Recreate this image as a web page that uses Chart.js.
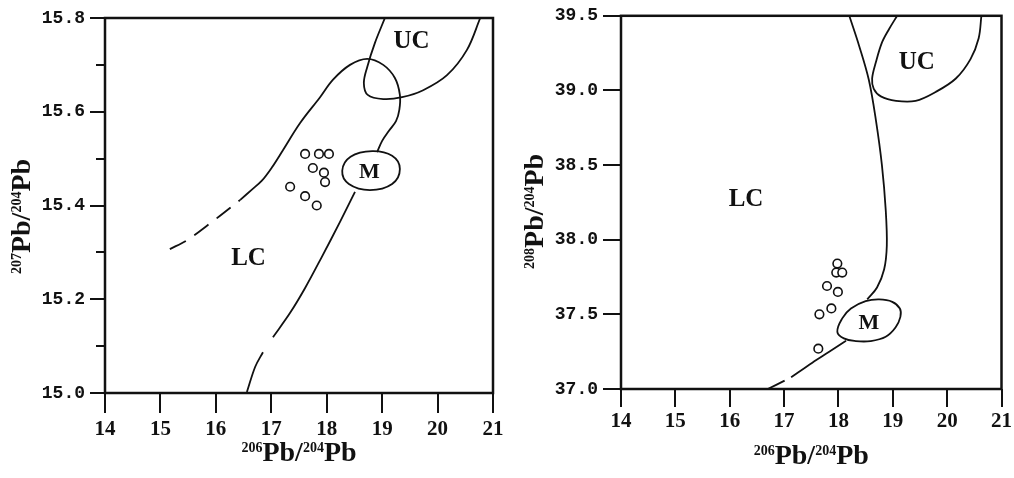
<!DOCTYPE html>
<html>
<head>
<meta charset="utf-8">
<script src="https://cdn.jsdelivr.net/npm/chart.js@4.4.1/dist/chart.umd.min.js"></script>
<style>
  html, body { margin: 0; padding: 0; background: #fff; }
  #wrap { position: relative; width: 1014px; height: 478px; }
  canvas { position: absolute; top: 0; }
  #chartA { left: 0; }
  #chartB { left: 510px; }
</style>
</head>
<body>
<div id="wrap">
  <canvas id="chartA" width="510" height="478"></canvas>
  <canvas id="chartB" width="504" height="478"></canvas>
</div>
<script>
// Muestras: 206Pb/204Pb, 207Pb/204Pb, 208Pb/204Pb
const x206a = [17.61, 17.86, 18.04, 17.75, 17.95, 17.97, 17.34, 17.61, 17.82];
const y207 = [15.51, 15.51, 15.51, 15.48, 15.47, 15.45, 15.44, 15.42, 15.40];
const x206b = [17.98, 17.96, 18.07, 17.79, 17.99, 17.87, 17.65, 17.63];
const y208 = [37.84, 37.78, 37.78, 37.69, 37.65, 37.54, 37.50, 37.27];

// Campos del diagrama 207/204 (izquierda)
const lcDashA = [[15.17, 15.307], [15.48, 15.326], [15.93, 15.365], [16.44, 15.412]];
const lcUpperA = [[16.44, 15.412], [16.65, 15.434], [16.83, 15.453], [17.01, 15.481], [17.21, 15.518],
  [17.52, 15.576], [17.88, 15.631], [18.11, 15.668], [18.42, 15.70], [18.73, 15.713], [19.02, 15.70],
  [19.23, 15.672], [19.32, 15.636], [19.31, 15.604], [19.25, 15.58], [19.12, 15.559], [19.00, 15.538],
  [18.91, 15.514]];
const lcLowerA = [[18.51, 15.429], [18.24, 15.365], [17.91, 15.29], [17.61, 15.224], [17.34, 15.171],
  [17.03, 15.119]];
const lcTailA = [[16.85, 15.087], [16.71, 15.056], [16.56, 15.002]];
const mFieldA = [[18.28, 15.474], [18.43, 15.504], [18.82, 15.516], [19.18, 15.506], [19.32, 15.478],
  [19.18, 15.446], [18.78, 15.433], [18.40, 15.446]];
const ucFieldA = [[19.05, 15.80], [18.87, 15.747], [18.73, 15.695], [18.67, 15.661], [18.74, 15.636],
  [19.02, 15.627], [19.36, 15.631], [19.74, 15.646], [20.17, 15.678], [20.53, 15.732], [20.77, 15.80]];

// Campos del diagrama 208/204 (derecha)
const lcBoundaryB = [[18.20, 39.50], [18.38, 39.30], [18.56, 39.07], [18.69, 38.80], [18.80, 38.50],
  [18.87, 38.20], [18.89, 37.96], [18.84, 37.80], [18.71, 37.68], [18.53, 37.60]];
const mFieldB = [[17.98, 37.383], [18.07, 37.473], [18.23, 37.539], [18.50, 37.588], [18.75, 37.60],
  [18.99, 37.584], [19.13, 37.539], [19.14, 37.483], [19.05, 37.412], [18.87, 37.35], [18.59, 37.321],
  [18.32, 37.321], [18.10, 37.339]];
const lcLowerB = [[18.14, 37.323], [17.83, 37.249], [17.52, 37.176], [17.13, 37.078]];
const lcTailB = [[17.01, 37.056], [16.70, 37.0]];
const ucFieldB = [[19.08, 39.50], [18.93, 39.41], [18.80, 39.32], [18.69, 39.19], [18.62, 39.08],
  [18.65, 39.01], [18.78, 38.96], [19.06, 38.93], [19.42, 38.93], [19.79, 38.99], [20.16, 39.08],
  [20.43, 39.21], [20.58, 39.35], [20.63, 39.50]];

// Rótulos de los campos
const fieldNames = ['UC', 'LC', 'M'];
const fieldXA = [19.53, 16.59, 18.77];
const fieldYA = [15.749, 15.287, 15.470];
const fieldXB = [19.44, 16.30, 18.56];
const fieldYB = [39.19, 38.27, 37.44];

const INK = '#111';

function toXY(points) {
  return points.map(p => ({ x: p[0], y: p[1] }));
}

function curve(points, dash) {
  return {
    data: toXY(points),
    showLine: true,
    pointRadius: 0,
    borderColor: INK,
    borderWidth: 1.8,
    borderDash: dash || [],
    tension: 0.35,
    fill: false
  };
}

// Curva cerrada: se repiten puntos en los extremos y se ocultan los tramos sobrantes
function loop(points) {
  const pts = [points[points.length - 1], ...points, points[0], points[1]];
  const n = pts.length;
  const ds = curve(pts);
  ds.tension = 0.4;
  ds.segment = {
    borderColor: ctx => (ctx.p0DataIndex === 0 || ctx.p1DataIndex === n - 1) ? 'rgba(0,0,0,0)' : INK
  };
  return ds;
}

function samples(xs, ys) {
  return {
    data: xs.map((x, i) => ({ x, y: ys[i] })),
    showLine: false,
    pointRadius: 4.3,
    pointBorderWidth: 1.6,
    pointBackgroundColor: '#fff',
    pointBorderColor: INK
  };
}

// Marco del área de la gráfica
const framePlugin = {
  id: 'frame',
  afterDraw(chart) {
    const a = chart.chartArea;
    const ctx = chart.ctx;
    ctx.save();
    ctx.strokeStyle = INK;
    ctx.lineWidth = 2.5;
    ctx.strokeRect(a.left, a.top, a.right - a.left, a.bottom - a.top);
    ctx.restore();
  }
};

// Rótulos UC / LC / M
const fieldLabelPlugin = {
  id: 'fieldLabels',
  afterDatasetsDraw(chart, args, opts) {
    const ctx = chart.ctx;
    const sx = chart.scales.x;
    const sy = chart.scales.y;
    ctx.save();
    ctx.fillStyle = INK;
    ctx.textAlign = 'center';
    ctx.textBaseline = 'middle';
    opts.names.forEach((name, i) => {
      const size = name === 'M' ? 22 : 25;
      ctx.font = 'bold ' + size + 'px "Liberation Serif"';
      ctx.fillText(name, sx.getPixelForValue(opts.xs[i]), sy.getPixelForValue(opts.ys[i]));
    });
    ctx.restore();
  }
};

// Títulos de eje con superíndices
function drawParts(ctx, parts, cx, cy) {
  const big = 'bold 28px "Liberation Serif"';
  const small = 'bold 14px "Liberation Serif"';
  let total = 0;
  const widths = parts.map((p, i) => {
    ctx.font = i % 2 === 0 ? small : big;
    const w = ctx.measureText(p).width;
    total += w;
    return w;
  });
  let x = cx - total / 2;
  const base = cy + 9;
  ctx.textAlign = 'left';
  ctx.textBaseline = 'alphabetic';
  parts.forEach((p, i) => {
    ctx.font = i % 2 === 0 ? small : big;
    ctx.fillText(p, x, i % 2 === 0 ? base - 9 : base);
    x += widths[i];
  });
}

const axisTitlePlugin = {
  id: 'axisTitles',
  afterDraw(chart, args, opts) {
    const a = chart.chartArea;
    const ctx = chart.ctx;
    ctx.save();
    ctx.fillStyle = INK;
    drawParts(ctx, opts.x, (a.left + a.right) / 2, a.bottom + opts.xGap);
    ctx.translate(opts.yPos, (a.top + a.bottom) / 2 + opts.yShift);
    ctx.rotate(-Math.PI / 2);
    drawParts(ctx, opts.y, 0, 0);
    ctx.restore();
  }
};

function makeChart(canvas, cfg) {
  const tickFontY = { family: '"Liberation Mono"', size: 18, weight: 'bold' };
  const tickFontX = { family: '"Liberation Serif"', size: 21, weight: 'bold' };
  const scales = {
    x: {
      type: 'linear',
      min: 14,
      max: 21,
      ticks: { stepSize: 1, font: tickFontX, color: INK, padding: cfg.xPad, maxRotation: 0, autoSkip: false },
      grid: { drawOnChartArea: false, drawTicks: true, tickLength: cfg.xTick, color: INK, lineWidth: 2 },
      border: { display: false },
      afterFit: s => { s.height = cfg.xHeight; }
    },
    y: {
      type: 'linear',
      min: cfg.yMin,
      max: cfg.yMax,
      weight: 1,
      ticks: { stepSize: cfg.yStep, font: tickFontY, color: INK, padding: 5, callback: v => v.toFixed(1) },
      grid: { drawOnChartArea: false, drawTicks: true, tickLength: cfg.yTick, color: INK, lineWidth: 2 },
      border: { display: false },
      afterFit: s => { s.width = cfg.yWidth; }
    }
  };
  if (cfg.minorStep) {
    scales.ym = {
      type: 'linear',
      position: 'left',
      min: cfg.yMin,
      max: cfg.yMax,
      weight: 0,
      ticks: { stepSize: cfg.minorStep, display: false },
      grid: { drawOnChartArea: false, drawTicks: true, tickLength: 9, color: INK, lineWidth: 2 },
      border: { display: false },
      afterFit: s => { s.width = 0; }
    };
  }
  return new Chart(canvas, {
    type: 'scatter',
    data: { datasets: cfg.datasets },
    options: {
      responsive: false,
      animation: false,
      events: [],
      layout: { padding: cfg.padding },
      scales,
      plugins: {
        legend: { display: false },
        tooltip: { enabled: false },
        fieldLabels: cfg.labels,
        axisTitles: cfg.titles
      }
    },
    plugins: [framePlugin, fieldLabelPlugin, axisTitlePlugin]
  });
}

makeChart(document.getElementById('chartA'), {
  yMin: 15.0, yMax: 15.8, yStep: 0.2, minorStep: 0.1,
  yWidth: 105, yTick: 15, xHeight: 85, xTick: 20, xPad: 4,
  padding: { top: 18, right: 17, left: 0, bottom: 0 },
  datasets: [
    curve(lcDashA, [18, 10]),
    curve(lcUpperA),
    curve(lcLowerA),
    curve(lcTailA),
    loop(mFieldA),
    curve(ucFieldA),
    samples(x206a, y207)
  ],
  labels: { names: fieldNames, xs: fieldXA, ys: fieldYA },
  titles: { x: ['206', 'Pb/', '204', 'Pb'], y: ['207', 'Pb/', '204', 'Pb'], xGap: 59, yPos: 21, yShift: 11 }
});

makeChart(document.getElementById('chartB'), {
  yMin: 37.0, yMax: 39.5, yStep: 0.5, minorStep: 0,
  yWidth: 111, yTick: 18, xHeight: 89, xTick: 18, xPad: 2,
  padding: { top: 15, right: 11, left: 0, bottom: 0 },
  datasets: [
    curve(lcBoundaryB),
    loop(mFieldB),
    curve(lcLowerB),
    curve(lcTailB),
    curve(ucFieldB),
    samples(x206b, y208)
  ],
  labels: { names: fieldNames, xs: fieldXB, ys: fieldYB },
  titles: { x: ['206', 'Pb/', '204', 'Pb'], y: ['208', 'Pb/', '204', 'Pb'], xGap: 66, yPos: 24, yShift: 9 }
});
</script>
</body>
</html>
